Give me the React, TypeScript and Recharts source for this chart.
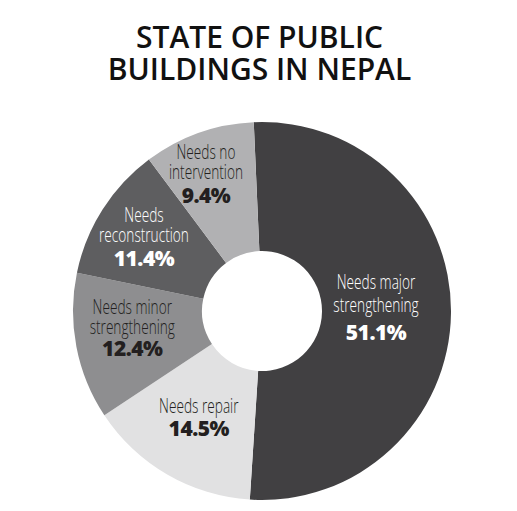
import React from 'react';
import { PieChart, Pie, Cell } from 'recharts';

const categories = [
  'Needs major strengthening',
  'Needs repair',
  'Needs minor strengthening',
  'Needs reconstruction',
  'Needs no intervention',
];
const shares = [51.1, 14.5, 12.4, 11.4, 9.4];
const labelLines = [
  ['Needs major', 'strengthening'],
  ['Needs repair'],
  ['Needs minor', 'strengthening'],
  ['Needs', 'reconstruction'],
  ['Needs no', 'intervention'],
];
const titleLines = ['STATE OF PUBLIC', 'BUILDINGS IN NEPAL'];

const colors = ['#414042', '#e1e1e2', '#8e8e90', '#5e5e60', '#b1b1b3'];
const darkText = [false, true, true, false, true];
// label placement along each slice's mid angle
const labelRadius = [120, 114, 127, 134, 143];
const labelNudge = [[-6, -8], [-6, -4], [-5, -9], [-5, -5], [-8, -5]];
const lineGap = [23, 19.5, 19.5, 19.5, 19.5];
const pctGap = [28, 22.5, 22.5, 23.5, 23.5];

const data = categories.map((name, i) => ({ name, value: shares[i] }));

const RAD = Math.PI / 180;

function renderLabel(props: any) {
  const { cx, cy, midAngle, index } = props;
  const r = labelRadius[index];
  const x = cx + r * Math.cos(-midAngle * RAD) + labelNudge[index][0];
  const y = cy + r * Math.sin(-midAngle * RAD) + labelNudge[index][1];
  const lines = labelLines[index];
  const fill = darkText[index] ? '#231f20' : '#ffffff';
  const n = lines.length;
  return (
    <g key={`lbl-${index}`}>
      {lines.map((t, j) => (
        <g key={j} transform={`translate(${x},${y - (n - 1 - j) * lineGap[index]}) scale(0.7,1)`}>
          <text
            x={0}
            y={0}
            textAnchor="middle"
            dominantBaseline="central"
            fill={fill}
            style={{ fontFamily: "'Open Sans', sans-serif", fontSize: 19.5, fontWeight: 300 }}
          >
            {t}
          </text>
        </g>
      ))}
      <text
        x={x}
        y={y + pctGap[index]}
        textAnchor="middle"
        dominantBaseline="central"
        fill={fill}
        style={{ fontFamily: "'Open Sans', sans-serif", fontSize: 21, fontWeight: 800, letterSpacing: -0.5 }}
      >
        {`${shares[index]}%`}
      </text>
    </g>
  );
}

export default function App() {
  return (
    <div style={{ position: 'absolute', left: 0, top: 0, width: 517, height: 511, background: '#fff' }}>
      <div
        style={{
          position: 'absolute',
          left: 0,
          top: 21,
          width: 517,
          textAlign: 'center',
          fontFamily: "'Open Sans', sans-serif",
          fontWeight: 600,
          fontSize: 30,
          lineHeight: '31.5px',
          color: '#111',
          paddingLeft: 1,
        }}
      >
        {titleLines.map((t) => (
          <div key={t}>{t}</div>
        ))}
      </div>
      <PieChart width={517} height={511} style={{ position: 'absolute', left: 0, top: 0 }}>
        <Pie
          data={data}
          dataKey="value"
          nameKey="name"
          cx={257}
          cy={306}
          innerRadius={60}
          outerRadius={189}
          startAngle={92.5}
          endAngle={-267.5}
          stroke="none"
          labelLine={false}
          label={renderLabel}
          isAnimationActive={false}
        >
          {data.map((d, i) => (
            <Cell key={d.name} fill={colors[i]} />
          ))}
        </Pie>
      </PieChart>
    </div>
  );
}
